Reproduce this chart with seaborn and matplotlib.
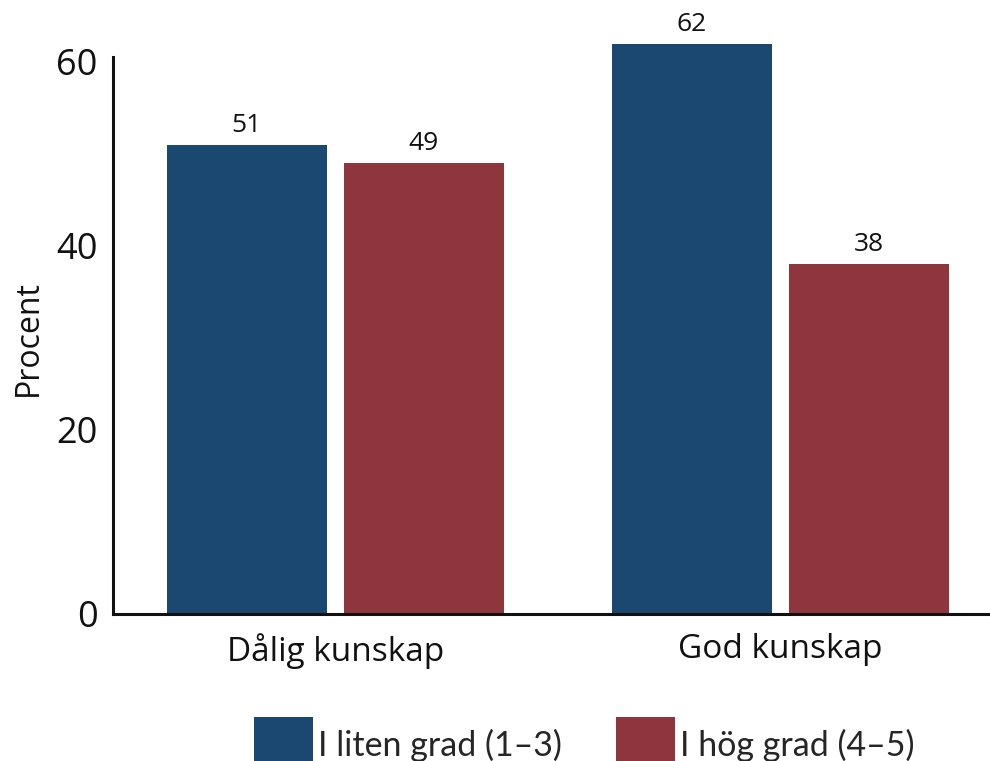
import pandas as pd
import matplotlib.pyplot as plt
import seaborn as sns

# data
categories = ["Dålig kunskap", "God kunskap"]
series_names = ["I liten grad (1–3)", "I hög grad (4–5)"]
liten_grad = [51, 62]
hog_grad = [49, 38]
y_ticks = [0, 20, 40, 60]

colors = ["#1b4870", "#8f353d"]

df = pd.DataFrame({
    "kategori": categories * 2,
    "grupp": [series_names[0]] * 2 + [series_names[1]] * 2,
    "procent": liten_grad + hog_grad,
})

sns.set_theme(style="white")
plt.rcParams["font.family"] = ["Open Sans", "DejaVu Sans"]

fig = plt.figure(figsize=(9.9, 7.61), dpi=100)
ax = fig.add_axes([0.1141, 0.1932, 0.8859, 0.7858])

sns.barplot(data=df, x="kategori", y="procent", hue="grupp",
            palette=colors, width=0.796, gap=0.096, linewidth=0,
            saturation=1, ax=ax)

for cont in ax.containers:
    ax.bar_label(cont, fmt="%d", padding=5, fontsize=19, color="#111111")

ax.set_xlim(-0.5, 1.472)
ax.set_ylim(0, 65)
ax.set_yticks(y_ticks)
ax.tick_params(axis="y", length=0, pad=11, labelsize=26, colors="#111111")
ax.tick_params(axis="x", length=0, pad=14, labelsize=24, colors="#111111")
ax.set_xlabel("")
ax.set_ylabel("Procent", fontsize=23, color="#111111")
ax.yaxis.set_label_coords(-0.078, 30 / 65)

sns.despine(ax=ax)
ax.spines["left"].set_bounds(0, 60.5)
for s in ["left", "bottom"]:
    ax.spines[s].set_color("#111111")
    ax.spines[s].set_linewidth(2.2)

ax.legend_.remove()
handles, labels = ax.get_legend_handles_labels()
fig.legend(handles, labels, loc="center", bbox_to_anchor=(0.59, 0.02),
           ncol=2, frameon=False, handlelength=1.73, handleheight=2.2,
           handletextpad=0.15, columnspacing=1.58, borderpad=0,
           prop={"family": ["Lato", "DejaVu Sans"], "size": 24.5})

fig.savefig("out.png", dpi=100)
